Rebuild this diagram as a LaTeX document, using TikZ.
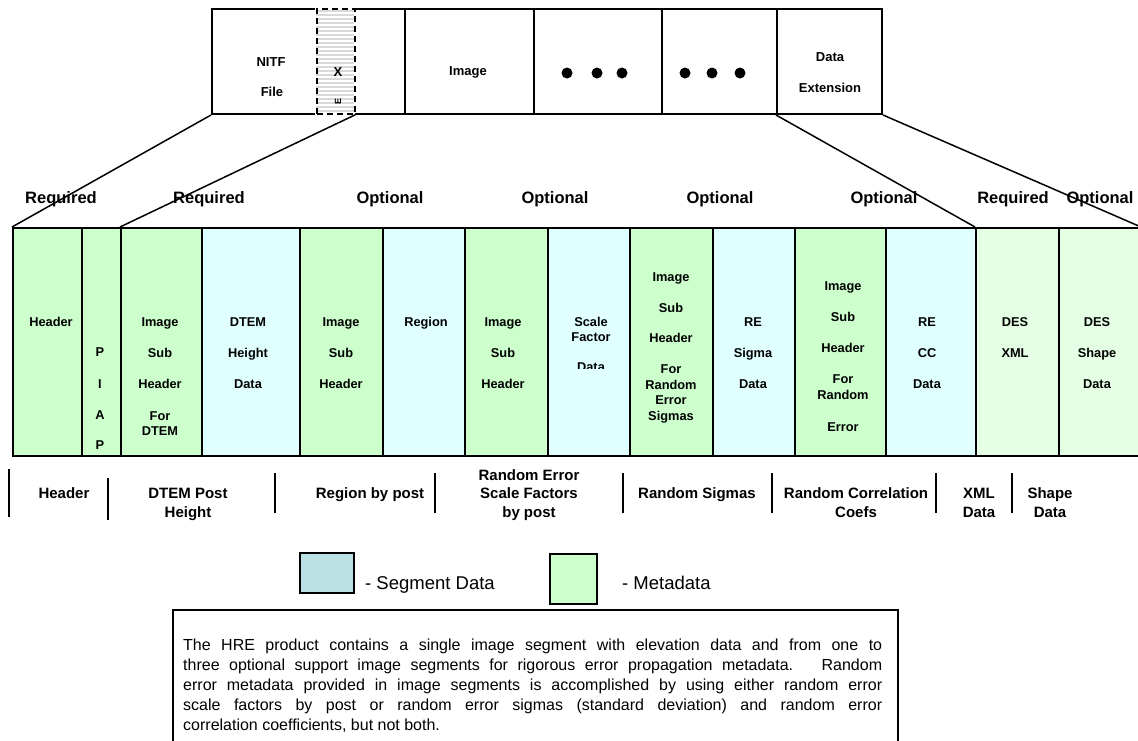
\documentclass[tikz,border=0pt]{standalone}
\usepackage{fontspec}
\setmainfont{Liberation Sans}
\definecolor{meta}{RGB}{204,255,204}
\definecolor{segd}{RGB}{224,255,255}
\definecolor{desg}{RGB}{228,255,228}
\definecolor{legblue}{RGB}{187,225,229}
\begin{document}
\begin{tikzpicture}[x=1pt,y=-1pt,
 cell/.style={draw, line width=2pt, inner sep=0pt, minimum height=228pt, anchor=north west},
 topbox/.style={draw, line width=2pt, inner sep=0pt, minimum height=105pt, anchor=north west},
 ttop/.style={font=\bfseries\fontsize{13}{15}\selectfont, anchor=base, inner sep=0pt},
 ctxt/.style={font=\bfseries\fontsize{12.8}{14}\selectfont, anchor=base, inner sep=0pt},
 ttl/.style={font=\bfseries\fontsize{16.5}{18}\selectfont, anchor=base, inner sep=0pt},
 btxt/.style={font=\bfseries\fontsize{15}{17}\selectfont, anchor=base, inner sep=0pt},
 sepline/.style={line width=2pt},
 conn/.style={line width=1.5pt},
 dotnode/.style={circle, fill=black, inner sep=0pt, minimum size=11pt},
 legbox/.style={draw, line width=2pt, inner sep=0pt, anchor=north west},
 legtxt/.style={font=\fontsize{18.5}{20}\selectfont, anchor=base west, inner sep=0pt}]

\useasboundingbox (0,0) rectangle (1138,740);
\fill[white] (0,0) rectangle (1138,740);

% ---- top bar
\foreach \n/\a/\b in {nitf/211/404, image/404/533, dotsa/533/661, dotsb/661/776, dext/776/881}
  \node[topbox, minimum width={\b-\a}] (\n) at (\a,8) {};

\fill[white] (315,5) rectangle (355,116);
\begin{scope}
  \clip (316,8) rectangle (354,113);
  \fill[gray!30] (316,8) rectangle (354,113);
  \foreach \yy in {9,13,...,113} \draw[white, line width=1.3pt] (316,\yy) -- (354,\yy);
\end{scope}
\node[draw, dash pattern=on 6pt off 4pt, line width=1.6pt, inner sep=0pt, minimum width=38pt, minimum height=105pt, anchor=north west] (strip) at (316,8) {};

\node[ttop] (tnitf) at (271,{62+4.7}) {NITF};
\node[ttop] (tfile) at (272,{92+4.7}) {File};
\node[ttop] (tx) at (338,{72+4.7}) {X};
\node[rotate=90, font=\bfseries\fontsize{9}{9}\selectfont, inner sep=0pt] (te) at (338,101) {E};
\node[ttop] (timage) at (468,{71+4.7}) {Image};
\node[ttop] (tdata) at (830,{57+4.7}) {Data};
\node[ttop] (text) at (830,{88+4.7}) {Extension};
\foreach \x [count=\i] in {567,597,622,685,712,740}
  \node[dotnode] (d\i) at (\x,73) {};

% ---- segment row
\foreach \n/\a/\b/\c in {hdr/12/81/meta, piap/81/120/meta, ishd/120/201/meta, dtem/201/299/segd,
    ishr/299/382/meta, region/382/464/segd, ishs/464/547/meta, scale/547/629/segd,
    ishe/629/712/meta, resig/712/794/segd, ishc/794/885/meta, recc/885/975/segd,
    desx/975/1058/desg, dess/1058/1139/desg}
  \node[cell, fill=\c, minimum width={\b-\a}] (\n) at (\a,227) {};

\foreach \x/\y/\t [count=\i] in {
   51/322/Header,
   100/352/P, 100/384/I, 100/415/A, 100/445/P,
   160/322/Image, 160/353/Sub, 160/384/Header, 160/416/For, 160/431/DTEM,
   248/322/DTEM, 248/353/Height, 248/384/Data,
   341/322/Image, 341/353/Sub, 341/384/Header,
   426/322/Region,
   503/322/Image, 503/353/Sub, 503/384/Header,
   591/322/Scale, 591/337/Factor,
   671/277/Image, 671/308/Sub, 671/338/Header, 671/369/For, 671/385/Random, 671/400/Error, 671/416/Sigmas,
   753/322/RE, 753/353/Sigma, 753/384/Data,
   843/286/Image, 843/317/Sub, 843/348/Header, 843/379/For, 843/395/Random, 843/427/Error,
   927/322/RE, 927/353/CC, 927/384/Data,
   1015/322/DES, 1015/353/XML,
   1097/322/DES, 1097/353/Shape, 1097/384/Data}
  \node[ctxt] (c\i) at (\x,{\y+4.5}) {\t};
\begin{scope}
  \clip (548,300) rectangle (628,368);
  \node[ctxt] (cscdata) at (591,{367+4.5}) {Data};
\end{scope}

% ---- labels above
\foreach \x/\t [count=\i] in {61/Required, 209/Required, 390/Optional, 555/Optional,
    720/Optional, 884/Optional, 1013/Required, 1100/Optional}
  \node[ttl] (l\i) at (\x,203) {\t};

% ---- connectors
\draw[conn] (nitf.south west) -- (hdr.north west);
\draw[conn] (strip.south east) -- (ishd.north west);
\draw[conn] (dext.south west) -- (desx.north west);
\draw[conn] (dext.south east) -- (dess.north east);

% ---- bottom labels
\foreach \x/\ya/\yb in {9/469/517, 108/478/520, 275/473/513, 435/473/513,
    623/473/513, 772/473/513, 936/473/513, 1012/473/513}
  \draw[sepline] (\x,\ya) -- (\x,\yb);

\foreach \x/\y/\t [count=\i] in {
   64/493/Header,
   188/493/DTEM Post, 188/512/Height,
   370/493/Region by post,
   529/475/Random Error, 529/493/Scale Factors, 529/512/by post,
   697/493/Random Sigmas,
   856/493/Random Correlation, 856/512/Coefs,
   979/493/XML, 979/512/Data,
   1050/493/Shape, 1050/512/Data}
  \node[btxt] (b\i) at (\x,{\y+5.4}) {\t};

% ---- legend
\node[legbox, fill=legblue, minimum width=54pt, minimum height=40pt] (legseg) at (299,552) {};
\begin{scope}
  \clip (360,560) rectangle (520,592);
  \node[legtxt] (legsegt) at (365,589) {- Segment Data};
\end{scope}
\node[legbox, fill=meta, minimum width=47pt, minimum height=50pt] (legmeta) at (549,553) {};
\node[legtxt] (legmetat) at (622,589) {- Metadata};

% ---- note box
\node[draw, line width=1.6pt, inner sep=0pt, minimum width=725pt, minimum height=200pt, anchor=north west] (notebox) at (172,609) {};
\node[anchor=north west, inner sep=0pt, text width=699pt, align=justify,
      font=\fontsize{16}{20}\selectfont] (note) at (183,639)
  {The HRE product contains a single image segment with elevation data and from one to\linebreak
   three optional support image segments for rigorous error propagation metadata.\ \ \ Random\linebreak
   error metadata provided in image segments is accomplished by using either random error\linebreak
   scale factors by post or random error sigmas (standard deviation) and random error\linebreak
   correlation coefficients, but not both.};
\end{tikzpicture}
\end{document}
